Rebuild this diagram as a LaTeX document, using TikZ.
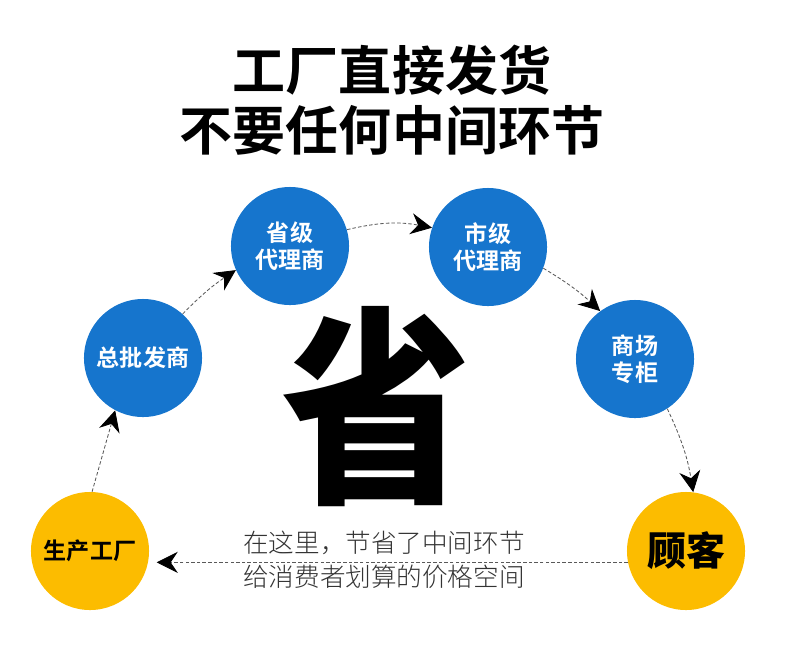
\documentclass[tikz,border=0pt]{standalone}
\usepackage{fontspec}
\newfontfamily\cjk{Noto Sans CJK SC}
\newfontfamily\cjkbold{Noto Sans CJK SC Bold}
\newfontfamily\cjkblack{Noto Sans CJK SC Black}
\newfontfamily\cjklight{Noto Sans CJK SC Light}
\usetikzlibrary{arrows.meta}
\definecolor{stageblue}{RGB}{22,117,205}
\definecolor{goldyellow}{RGB}{252,188,0}

\begin{document}
\begin{tikzpicture}[x=0.025cm, y=-0.025cm,
  stage/.style={circle, fill=stageblue, text=white, minimum size=2.95cm, inner sep=0pt, align=center, font=\cjkbold\fontsize{16.4}{19.2}\selectfont},
  terminal/.style={stage, fill=goldyellow, text=black},
  flow/.style={draw=black!65, dash pattern=on 2.5pt off 1.5pt, line width=0.6pt, -{Stealth[length=15pt,width=15pt,inset=5pt,black]}}]

\useasboundingbox (0,0) rectangle (790,652);

\node (title1) at (392,70) {\cjkbold\fontsize{37.7}{42}\selectfont 工厂直接发货};
\node (title2) at (392,130) {\cjkbold\fontsize{37.7}{42}\selectfont 不要任何中间环节};

\node (sheng) at (376,407) [xscale=0.9] {\cjkblack\fontsize{150}{150}\selectfont 省};

\node[terminal] (fac) at (90,551) {生产工厂};
\node[stage] (whole) at (143,358) {总批发商};
\node[stage] (prov) at (290,246) {省级\\代理商};
\node[stage] (city) at (488,247) {市级\\代理商};
\node[stage] (mall) at (635,359) {商场\\专柜};
\node[terminal, font=\cjkblack\fontsize{27.7}{30}\selectfont] (cust) at (686,551) {顾客};

\node[text=black!80, font=\cjklight\fontsize{18.2}{24.2}\selectfont, align=center] (note) at (384,560) {在这里，节省了中间环节\\给消费者划算的价格空间};

\draw[flow] (fac.88) -- (whole.242);
\draw[flow] (whole.48) to[bend left=6] (prov.204);
\draw[flow] (prov.16) to[bend left=12] (city.161);
\draw[flow] (city.339) to[bend left=6] (mall.126);
\draw[flow] (mall.303) to[bend left=8] (cust.83);
\draw[flow, shorten >=6pt] (cust.191) -- (fac.-11);

\end{tikzpicture}
\end{document}
